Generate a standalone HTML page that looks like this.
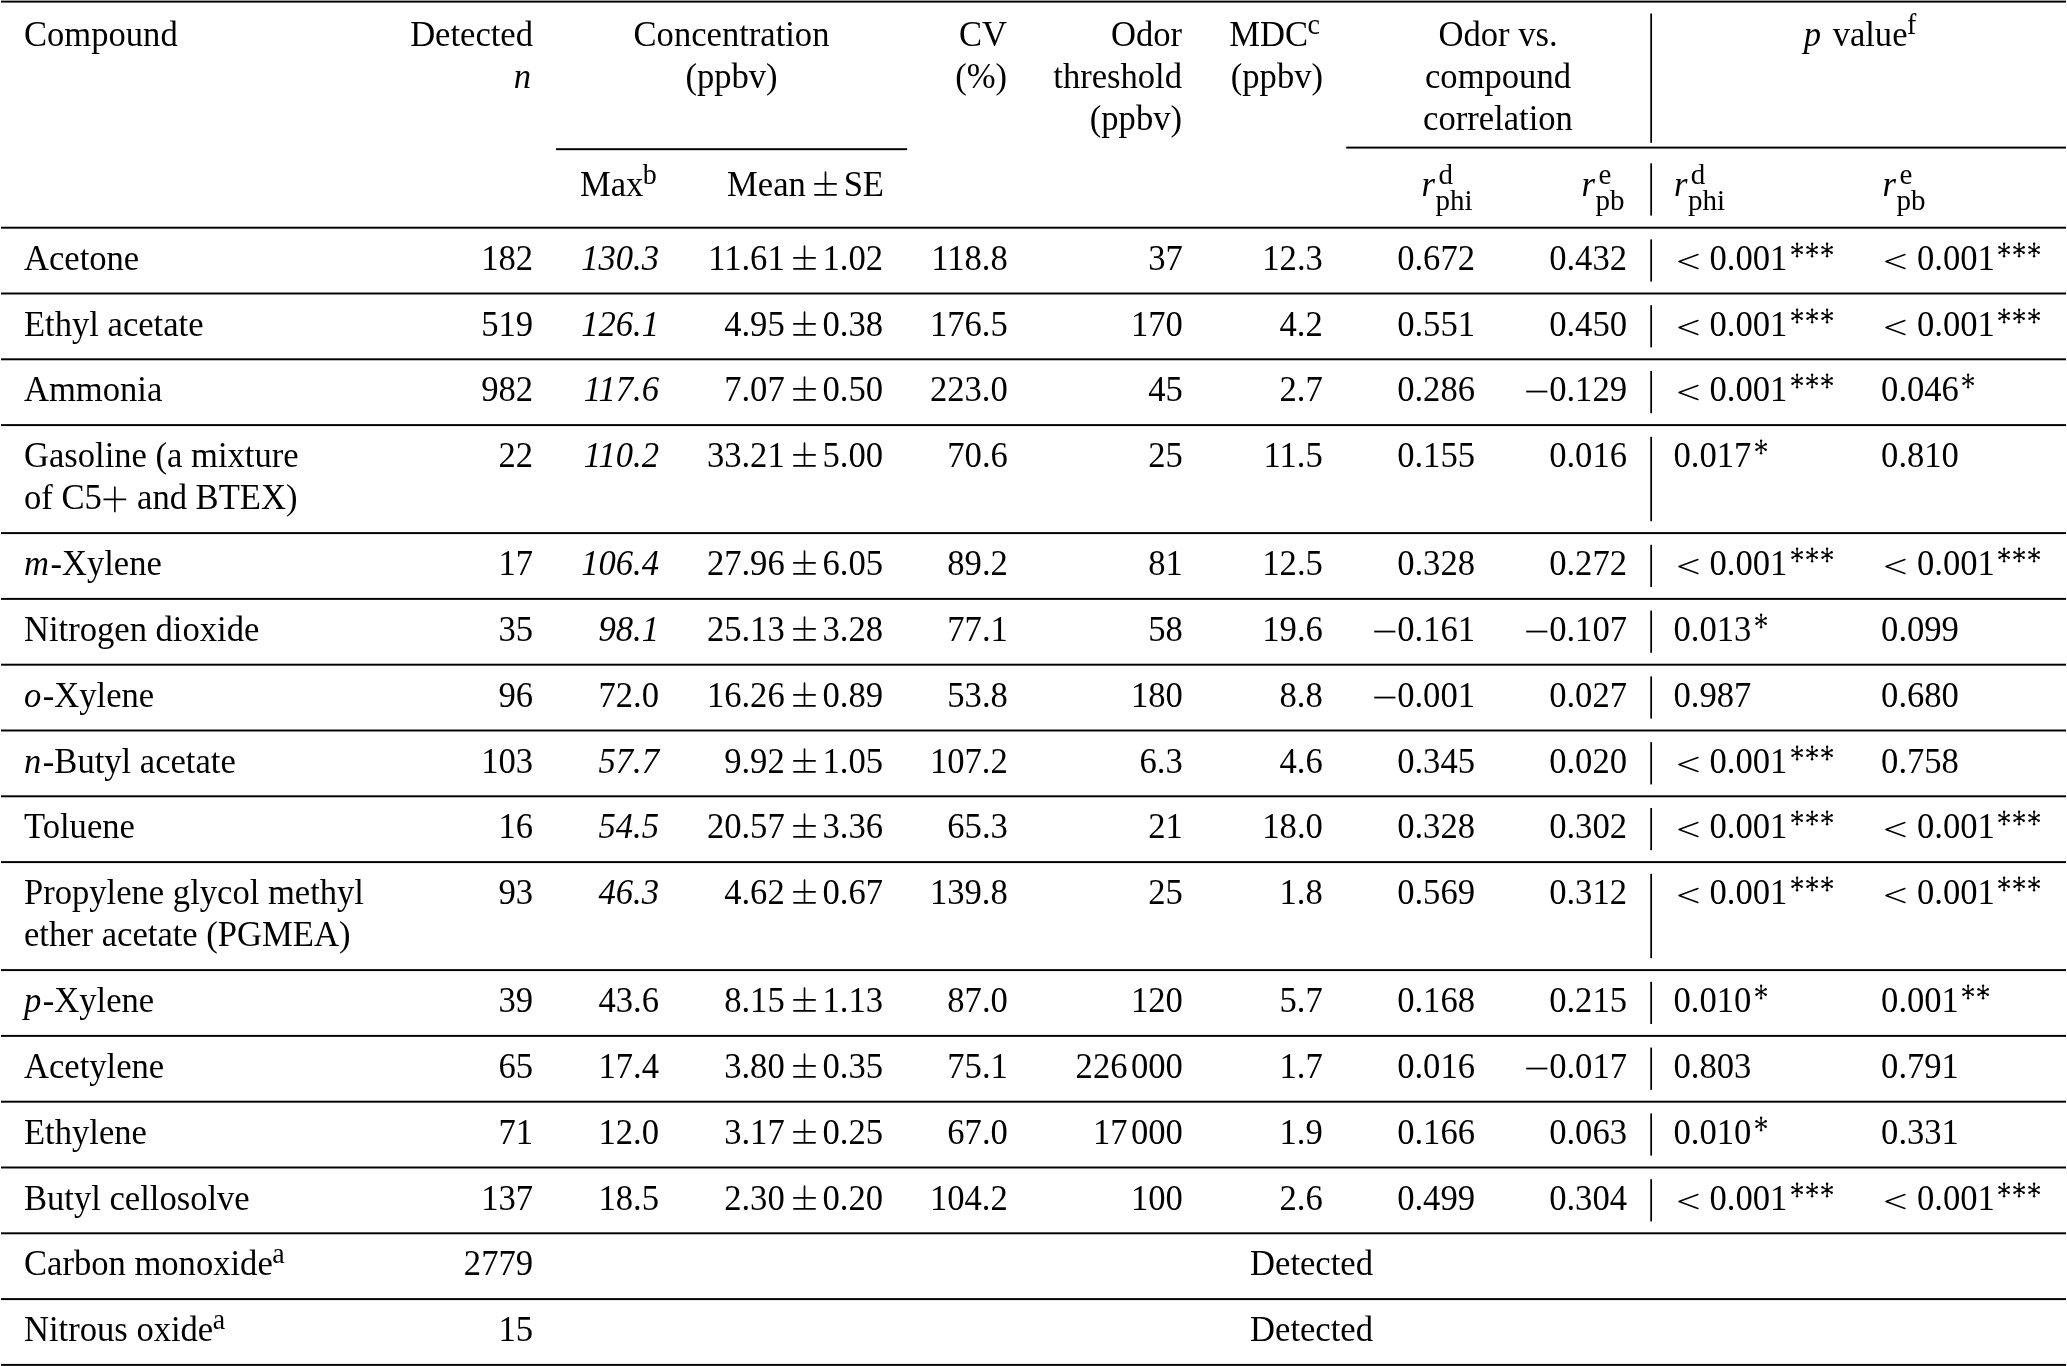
<!DOCTYPE html>
<html><head><meta charset="utf-8"><style>
html,body{margin:0;padding:0;background:#fff;}
body{will-change:transform;width:2067px;height:1366px;position:relative;overflow:hidden;font-family:"Liberation Serif",serif;color:#000;}
.t{position:absolute;white-space:nowrap;line-height:1;transform:scaleY(1.05);transform-origin:0 83.75%;}
.l{position:absolute;background:#111;}
sup{font-size:0.809em;vertical-align:0;position:relative;top:-0.40em;line-height:0;margin-left:-0.02em;}
svg{display:inline-block;vertical-align:baseline;overflow:visible;}
svg.lines{position:absolute;left:0;top:0;}
svg.ast{margin-left:3.3px;}
svg.lt{margin-left:4.2px;margin-right:10.8px;vertical-align:1px;}
svg.pm{margin-left:8px;margin-right:6.8px;vertical-align:-0.5px;}
svg.pl{margin-left:1.4px;margin-right:1.5px;vertical-align:-3.75px;}
svg.mn{margin-right:1.3px;}
.th{display:inline-block;width:0.1em;}
.mi{margin-right:1.5px;}
</style></head><body>
<svg class="lines" width="2067" height="1366" viewBox="0 0 2067 1366" fill="#000"><rect x="1.00" y="0.63" width="2065.00" height="1.95"/><rect x="556.00" y="148.22" width="351.10" height="1.95"/><rect x="1346.20" y="146.62" width="719.80" height="1.95"/><rect x="1650.28" y="13.50" width="1.75" height="129.30"/><rect x="1650.28" y="163.30" width="1.75" height="52.30"/><rect x="1.00" y="226.72" width="2065.00" height="1.95"/><rect x="1650.28" y="239.40" width="1.75" height="42.20"/><rect x="1.00" y="292.52" width="2065.00" height="1.95"/><rect x="1650.28" y="305.20" width="1.75" height="42.20"/><rect x="1.00" y="358.32" width="2065.00" height="1.95"/><rect x="1650.28" y="371.00" width="1.75" height="42.20"/><rect x="1.00" y="424.12" width="2065.00" height="1.95"/><rect x="1650.28" y="436.80" width="1.75" height="84.40"/><rect x="1.00" y="532.12" width="2065.00" height="1.95"/><rect x="1650.28" y="544.80" width="1.75" height="42.20"/><rect x="1.00" y="597.92" width="2065.00" height="1.95"/><rect x="1650.28" y="610.60" width="1.75" height="42.20"/><rect x="1.00" y="663.72" width="2065.00" height="1.95"/><rect x="1650.28" y="676.40" width="1.75" height="42.20"/><rect x="1.00" y="729.52" width="2065.00" height="1.95"/><rect x="1650.28" y="742.20" width="1.75" height="42.20"/><rect x="1.00" y="795.32" width="2065.00" height="1.95"/><rect x="1650.28" y="808.00" width="1.75" height="42.20"/><rect x="1.00" y="861.12" width="2065.00" height="1.95"/><rect x="1650.28" y="873.80" width="1.75" height="84.40"/><rect x="1.00" y="969.12" width="2065.00" height="1.95"/><rect x="1650.28" y="981.80" width="1.75" height="42.20"/><rect x="1.00" y="1034.92" width="2065.00" height="1.95"/><rect x="1650.28" y="1047.60" width="1.75" height="42.20"/><rect x="1.00" y="1100.72" width="2065.00" height="1.95"/><rect x="1650.28" y="1113.40" width="1.75" height="42.20"/><rect x="1.00" y="1166.52" width="2065.00" height="1.95"/><rect x="1650.28" y="1179.20" width="1.75" height="42.20"/><rect x="1.00" y="1232.32" width="2065.00" height="1.95"/><rect x="1.00" y="1298.12" width="2065.00" height="1.95"/><rect x="1.00" y="1363.92" width="2065.00" height="1.95"/></svg>
<div class="t" style="top:16.72px;font-size:34.6px;left:24.00px;">Compound</div>
<div class="t" style="top:16.72px;font-size:34.6px;right:1534.00px;text-align:right;">Detected</div>
<div class="t" style="top:58.92px;font-size:34.6px;right:1536.00px;text-align:right;"><i>n</i></div>
<div class="t" style="top:16.72px;font-size:34.6px;left:331.50px;width:800px;text-align:center;">Concentration</div>
<div class="t" style="top:58.92px;font-size:34.6px;left:331.50px;width:800px;text-align:center;">(ppbv)</div>
<div class="t" style="top:16.72px;font-size:34.6px;right:1060.00px;text-align:right;">CV</div>
<div class="t" style="top:58.92px;font-size:34.6px;right:1060.00px;text-align:right;">(%)</div>
<div class="t" style="top:16.72px;font-size:34.6px;right:885.00px;text-align:right;">Odor</div>
<div class="t" style="top:58.92px;font-size:34.6px;right:885.00px;text-align:right;">threshold</div>
<div class="t" style="top:101.12px;font-size:34.6px;right:885.00px;text-align:right;">(ppbv)</div>
<div class="t" style="top:16.72px;font-size:34.6px;right:747.00px;text-align:right;">MDC<sup>c</sup></div>
<div class="t" style="top:58.92px;font-size:34.6px;right:744.00px;text-align:right;">(ppbv)</div>
<div class="t" style="top:16.72px;font-size:34.6px;left:1098.00px;width:800px;text-align:center;">Odor vs.</div>
<div class="t" style="top:58.92px;font-size:34.6px;left:1098.00px;width:800px;text-align:center;">compound</div>
<div class="t" style="top:101.12px;font-size:34.6px;left:1098.00px;width:800px;text-align:center;">correlation</div>
<div class="t" style="top:16.72px;font-size:34.6px;left:1460.00px;width:800px;text-align:center;"><i style="margin-right:3px">p</i> value<sup>f</sup></div>
<div class="t" style="top:167.22px;font-size:34.6px;left:580.00px;">Max<sup>b</sup></div>
<div class="t" style="top:167.22px;font-size:34.6px;right:1183.00px;text-align:right;">Mean<svg class="pm" width="23" height="25" viewBox="0 0 23 25"><path d="M0.9 12.5H22.1M11.5 1.3V22.9M0.9 22.9H22.1" stroke="#000" stroke-width="1.7" fill="none" stroke-linecap="round"/></svg>SE</div>
<div class="t" style="top:167.22px;font-size:34.6px;left:1421.60px;"><i>r</i></div>
<div class="t" style="top:159.91px;font-size:29.0px;left:1438.40px;">d</div>
<div class="t" style="top:186.11px;font-size:29.0px;left:1435.60px;">phi</div>
<div class="t" style="top:167.22px;font-size:34.6px;left:1581.60px;"><i>r</i></div>
<div class="t" style="top:159.91px;font-size:29.0px;left:1598.40px;">e</div>
<div class="t" style="top:186.11px;font-size:29.0px;left:1595.60px;">pb</div>
<div class="t" style="top:167.22px;font-size:34.6px;left:1674.00px;"><i>r</i></div>
<div class="t" style="top:159.91px;font-size:29.0px;left:1690.80px;">d</div>
<div class="t" style="top:186.11px;font-size:29.0px;left:1688.00px;">phi</div>
<div class="t" style="top:167.22px;font-size:34.6px;left:1882.60px;"><i>r</i></div>
<div class="t" style="top:159.91px;font-size:29.0px;left:1899.40px;">e</div>
<div class="t" style="top:186.11px;font-size:29.0px;left:1896.60px;">pb</div>
<div class="t" style="top:240.72px;font-size:34.6px;left:24.00px;">Acetone</div>
<div class="t" style="top:240.72px;font-size:34.6px;right:1534.00px;text-align:right;">182</div>
<div class="t" style="top:240.72px;font-size:34.6px;right:1408.00px;text-align:right;"><i>130.3</i></div>
<div class="t" style="top:240.72px;font-size:34.6px;right:1184.00px;text-align:right;">11.61<svg class="pm" width="23" height="25" viewBox="0 0 23 25"><path d="M0.9 12.5H22.1M11.5 1.3V22.9M0.9 22.9H22.1" stroke="#000" stroke-width="1.7" fill="none" stroke-linecap="round"/></svg>1.02</div>
<div class="t" style="top:240.72px;font-size:34.6px;right:1059.20px;text-align:right;">118.8</div>
<div class="t" style="top:240.72px;font-size:34.6px;right:884.20px;text-align:right;">37</div>
<div class="t" style="top:240.72px;font-size:34.6px;right:744.20px;text-align:right;">12.3</div>
<div class="t" style="top:240.72px;font-size:34.6px;right:592.00px;text-align:right;">0.672</div>
<div class="t" style="top:240.72px;font-size:34.6px;right:440.00px;text-align:right;">0.432</div>
<div class="t" style="top:240.72px;font-size:34.6px;left:1673.50px;"><svg class="lt" width="21" height="17" viewBox="0 0 21 17"><path d="M19.9 3.3L1.0 9.9L19.9 16.5" stroke="#000" stroke-width="1.5" fill="none" stroke-linecap="round" stroke-linejoin="round"/></svg>0.001<svg class="ast" width="45.0" height="27" viewBox="0 0 45.0 27"><path d="M6.10 2.00V13.80M1.50 5.25L10.70 10.55M1.50 10.55L10.70 5.25M21.10 2.00V13.80M16.50 5.25L25.70 10.55M16.50 10.55L25.70 5.25M36.10 2.00V13.80M31.50 5.25L40.70 10.55M31.50 10.55L40.70 5.25" stroke="#000" stroke-width="1.35" fill="none"/><circle cx="6.10" cy="2.00" r="1.2"/><circle cx="6.10" cy="13.80" r="1.2"/><circle cx="1.50" cy="5.25" r="1.2"/><circle cx="10.70" cy="10.55" r="1.2"/><circle cx="1.50" cy="10.55" r="1.2"/><circle cx="10.70" cy="5.25" r="1.2"/><circle cx="21.10" cy="2.00" r="1.2"/><circle cx="21.10" cy="13.80" r="1.2"/><circle cx="16.50" cy="5.25" r="1.2"/><circle cx="25.70" cy="10.55" r="1.2"/><circle cx="16.50" cy="10.55" r="1.2"/><circle cx="25.70" cy="5.25" r="1.2"/><circle cx="36.10" cy="2.00" r="1.2"/><circle cx="36.10" cy="13.80" r="1.2"/><circle cx="31.50" cy="5.25" r="1.2"/><circle cx="40.70" cy="10.55" r="1.2"/><circle cx="31.50" cy="10.55" r="1.2"/><circle cx="40.70" cy="5.25" r="1.2"/></svg></div>
<div class="t" style="top:240.72px;font-size:34.6px;left:1881.10px;"><svg class="lt" width="21" height="17" viewBox="0 0 21 17"><path d="M19.9 3.3L1.0 9.9L19.9 16.5" stroke="#000" stroke-width="1.5" fill="none" stroke-linecap="round" stroke-linejoin="round"/></svg>0.001<svg class="ast" width="45.0" height="27" viewBox="0 0 45.0 27"><path d="M6.10 2.00V13.80M1.50 5.25L10.70 10.55M1.50 10.55L10.70 5.25M21.10 2.00V13.80M16.50 5.25L25.70 10.55M16.50 10.55L25.70 5.25M36.10 2.00V13.80M31.50 5.25L40.70 10.55M31.50 10.55L40.70 5.25" stroke="#000" stroke-width="1.35" fill="none"/><circle cx="6.10" cy="2.00" r="1.2"/><circle cx="6.10" cy="13.80" r="1.2"/><circle cx="1.50" cy="5.25" r="1.2"/><circle cx="10.70" cy="10.55" r="1.2"/><circle cx="1.50" cy="10.55" r="1.2"/><circle cx="10.70" cy="5.25" r="1.2"/><circle cx="21.10" cy="2.00" r="1.2"/><circle cx="21.10" cy="13.80" r="1.2"/><circle cx="16.50" cy="5.25" r="1.2"/><circle cx="25.70" cy="10.55" r="1.2"/><circle cx="16.50" cy="10.55" r="1.2"/><circle cx="25.70" cy="5.25" r="1.2"/><circle cx="36.10" cy="2.00" r="1.2"/><circle cx="36.10" cy="13.80" r="1.2"/><circle cx="31.50" cy="5.25" r="1.2"/><circle cx="40.70" cy="10.55" r="1.2"/><circle cx="31.50" cy="10.55" r="1.2"/><circle cx="40.70" cy="5.25" r="1.2"/></svg></div>
<div class="t" style="top:306.52px;font-size:34.6px;left:24.00px;">Ethyl acetate</div>
<div class="t" style="top:306.52px;font-size:34.6px;right:1534.00px;text-align:right;">519</div>
<div class="t" style="top:306.52px;font-size:34.6px;right:1408.00px;text-align:right;"><i>126.1</i></div>
<div class="t" style="top:306.52px;font-size:34.6px;right:1184.00px;text-align:right;">4.95<svg class="pm" width="23" height="25" viewBox="0 0 23 25"><path d="M0.9 12.5H22.1M11.5 1.3V22.9M0.9 22.9H22.1" stroke="#000" stroke-width="1.7" fill="none" stroke-linecap="round"/></svg>0.38</div>
<div class="t" style="top:306.52px;font-size:34.6px;right:1059.20px;text-align:right;">176.5</div>
<div class="t" style="top:306.52px;font-size:34.6px;right:884.20px;text-align:right;">170</div>
<div class="t" style="top:306.52px;font-size:34.6px;right:744.20px;text-align:right;">4.2</div>
<div class="t" style="top:306.52px;font-size:34.6px;right:592.00px;text-align:right;">0.551</div>
<div class="t" style="top:306.52px;font-size:34.6px;right:440.00px;text-align:right;">0.450</div>
<div class="t" style="top:306.52px;font-size:34.6px;left:1673.50px;"><svg class="lt" width="21" height="17" viewBox="0 0 21 17"><path d="M19.9 3.3L1.0 9.9L19.9 16.5" stroke="#000" stroke-width="1.5" fill="none" stroke-linecap="round" stroke-linejoin="round"/></svg>0.001<svg class="ast" width="45.0" height="27" viewBox="0 0 45.0 27"><path d="M6.10 2.00V13.80M1.50 5.25L10.70 10.55M1.50 10.55L10.70 5.25M21.10 2.00V13.80M16.50 5.25L25.70 10.55M16.50 10.55L25.70 5.25M36.10 2.00V13.80M31.50 5.25L40.70 10.55M31.50 10.55L40.70 5.25" stroke="#000" stroke-width="1.35" fill="none"/><circle cx="6.10" cy="2.00" r="1.2"/><circle cx="6.10" cy="13.80" r="1.2"/><circle cx="1.50" cy="5.25" r="1.2"/><circle cx="10.70" cy="10.55" r="1.2"/><circle cx="1.50" cy="10.55" r="1.2"/><circle cx="10.70" cy="5.25" r="1.2"/><circle cx="21.10" cy="2.00" r="1.2"/><circle cx="21.10" cy="13.80" r="1.2"/><circle cx="16.50" cy="5.25" r="1.2"/><circle cx="25.70" cy="10.55" r="1.2"/><circle cx="16.50" cy="10.55" r="1.2"/><circle cx="25.70" cy="5.25" r="1.2"/><circle cx="36.10" cy="2.00" r="1.2"/><circle cx="36.10" cy="13.80" r="1.2"/><circle cx="31.50" cy="5.25" r="1.2"/><circle cx="40.70" cy="10.55" r="1.2"/><circle cx="31.50" cy="10.55" r="1.2"/><circle cx="40.70" cy="5.25" r="1.2"/></svg></div>
<div class="t" style="top:306.52px;font-size:34.6px;left:1881.10px;"><svg class="lt" width="21" height="17" viewBox="0 0 21 17"><path d="M19.9 3.3L1.0 9.9L19.9 16.5" stroke="#000" stroke-width="1.5" fill="none" stroke-linecap="round" stroke-linejoin="round"/></svg>0.001<svg class="ast" width="45.0" height="27" viewBox="0 0 45.0 27"><path d="M6.10 2.00V13.80M1.50 5.25L10.70 10.55M1.50 10.55L10.70 5.25M21.10 2.00V13.80M16.50 5.25L25.70 10.55M16.50 10.55L25.70 5.25M36.10 2.00V13.80M31.50 5.25L40.70 10.55M31.50 10.55L40.70 5.25" stroke="#000" stroke-width="1.35" fill="none"/><circle cx="6.10" cy="2.00" r="1.2"/><circle cx="6.10" cy="13.80" r="1.2"/><circle cx="1.50" cy="5.25" r="1.2"/><circle cx="10.70" cy="10.55" r="1.2"/><circle cx="1.50" cy="10.55" r="1.2"/><circle cx="10.70" cy="5.25" r="1.2"/><circle cx="21.10" cy="2.00" r="1.2"/><circle cx="21.10" cy="13.80" r="1.2"/><circle cx="16.50" cy="5.25" r="1.2"/><circle cx="25.70" cy="10.55" r="1.2"/><circle cx="16.50" cy="10.55" r="1.2"/><circle cx="25.70" cy="5.25" r="1.2"/><circle cx="36.10" cy="2.00" r="1.2"/><circle cx="36.10" cy="13.80" r="1.2"/><circle cx="31.50" cy="5.25" r="1.2"/><circle cx="40.70" cy="10.55" r="1.2"/><circle cx="31.50" cy="10.55" r="1.2"/><circle cx="40.70" cy="5.25" r="1.2"/></svg></div>
<div class="t" style="top:372.32px;font-size:34.6px;left:24.00px;">Ammonia</div>
<div class="t" style="top:372.32px;font-size:34.6px;right:1534.00px;text-align:right;">982</div>
<div class="t" style="top:372.32px;font-size:34.6px;right:1408.00px;text-align:right;"><i>117.6</i></div>
<div class="t" style="top:372.32px;font-size:34.6px;right:1184.00px;text-align:right;">7.07<svg class="pm" width="23" height="25" viewBox="0 0 23 25"><path d="M0.9 12.5H22.1M11.5 1.3V22.9M0.9 22.9H22.1" stroke="#000" stroke-width="1.7" fill="none" stroke-linecap="round"/></svg>0.50</div>
<div class="t" style="top:372.32px;font-size:34.6px;right:1059.20px;text-align:right;">223.0</div>
<div class="t" style="top:372.32px;font-size:34.6px;right:884.20px;text-align:right;">45</div>
<div class="t" style="top:372.32px;font-size:34.6px;right:744.20px;text-align:right;">2.7</div>
<div class="t" style="top:372.32px;font-size:34.6px;right:592.00px;text-align:right;">0.286</div>
<div class="t" style="top:372.32px;font-size:34.6px;right:440.00px;text-align:right;"><svg class="mn" width="22" height="12" viewBox="0 0 22 12"><path d="M0.2 3.0H21.4" stroke="#000" stroke-width="1.7" fill="none"/></svg>0.129</div>
<div class="t" style="top:372.32px;font-size:34.6px;left:1673.50px;"><svg class="lt" width="21" height="17" viewBox="0 0 21 17"><path d="M19.9 3.3L1.0 9.9L19.9 16.5" stroke="#000" stroke-width="1.5" fill="none" stroke-linecap="round" stroke-linejoin="round"/></svg>0.001<svg class="ast" width="45.0" height="27" viewBox="0 0 45.0 27"><path d="M6.10 2.00V13.80M1.50 5.25L10.70 10.55M1.50 10.55L10.70 5.25M21.10 2.00V13.80M16.50 5.25L25.70 10.55M16.50 10.55L25.70 5.25M36.10 2.00V13.80M31.50 5.25L40.70 10.55M31.50 10.55L40.70 5.25" stroke="#000" stroke-width="1.35" fill="none"/><circle cx="6.10" cy="2.00" r="1.2"/><circle cx="6.10" cy="13.80" r="1.2"/><circle cx="1.50" cy="5.25" r="1.2"/><circle cx="10.70" cy="10.55" r="1.2"/><circle cx="1.50" cy="10.55" r="1.2"/><circle cx="10.70" cy="5.25" r="1.2"/><circle cx="21.10" cy="2.00" r="1.2"/><circle cx="21.10" cy="13.80" r="1.2"/><circle cx="16.50" cy="5.25" r="1.2"/><circle cx="25.70" cy="10.55" r="1.2"/><circle cx="16.50" cy="10.55" r="1.2"/><circle cx="25.70" cy="5.25" r="1.2"/><circle cx="36.10" cy="2.00" r="1.2"/><circle cx="36.10" cy="13.80" r="1.2"/><circle cx="31.50" cy="5.25" r="1.2"/><circle cx="40.70" cy="10.55" r="1.2"/><circle cx="31.50" cy="10.55" r="1.2"/><circle cx="40.70" cy="5.25" r="1.2"/></svg></div>
<div class="t" style="top:372.32px;font-size:34.6px;left:1881.10px;">0.046<svg class="ast" width="15.0" height="27" viewBox="0 0 15.0 27"><path d="M6.10 2.00V13.80M1.50 5.25L10.70 10.55M1.50 10.55L10.70 5.25" stroke="#000" stroke-width="1.35" fill="none"/><circle cx="6.10" cy="2.00" r="1.2"/><circle cx="6.10" cy="13.80" r="1.2"/><circle cx="1.50" cy="5.25" r="1.2"/><circle cx="10.70" cy="10.55" r="1.2"/><circle cx="1.50" cy="10.55" r="1.2"/><circle cx="10.70" cy="5.25" r="1.2"/></svg></div>
<div class="t" style="top:438.12px;font-size:34.6px;left:24.00px;">Gasoline (a mixture</div>
<div class="t" style="top:480.32px;font-size:34.6px;left:24.00px;">of C5<svg class="pl" width="23.7" height="25.7" viewBox="0 0 23.7 25.7"><path d="M0.5 12.85H23.2M11.85 0.6V25.1" stroke="#000" stroke-width="1.6" fill="none"/></svg> and BTEX)</div>
<div class="t" style="top:438.12px;font-size:34.6px;right:1534.00px;text-align:right;">22</div>
<div class="t" style="top:438.12px;font-size:34.6px;right:1408.00px;text-align:right;"><i>110.2</i></div>
<div class="t" style="top:438.12px;font-size:34.6px;right:1184.00px;text-align:right;">33.21<svg class="pm" width="23" height="25" viewBox="0 0 23 25"><path d="M0.9 12.5H22.1M11.5 1.3V22.9M0.9 22.9H22.1" stroke="#000" stroke-width="1.7" fill="none" stroke-linecap="round"/></svg>5.00</div>
<div class="t" style="top:438.12px;font-size:34.6px;right:1059.20px;text-align:right;">70.6</div>
<div class="t" style="top:438.12px;font-size:34.6px;right:884.20px;text-align:right;">25</div>
<div class="t" style="top:438.12px;font-size:34.6px;right:744.20px;text-align:right;">11.5</div>
<div class="t" style="top:438.12px;font-size:34.6px;right:592.00px;text-align:right;">0.155</div>
<div class="t" style="top:438.12px;font-size:34.6px;right:440.00px;text-align:right;">0.016</div>
<div class="t" style="top:438.12px;font-size:34.6px;left:1673.50px;">0.017<svg class="ast" width="15.0" height="27" viewBox="0 0 15.0 27"><path d="M6.10 2.00V13.80M1.50 5.25L10.70 10.55M1.50 10.55L10.70 5.25" stroke="#000" stroke-width="1.35" fill="none"/><circle cx="6.10" cy="2.00" r="1.2"/><circle cx="6.10" cy="13.80" r="1.2"/><circle cx="1.50" cy="5.25" r="1.2"/><circle cx="10.70" cy="10.55" r="1.2"/><circle cx="1.50" cy="10.55" r="1.2"/><circle cx="10.70" cy="5.25" r="1.2"/></svg></div>
<div class="t" style="top:438.12px;font-size:34.6px;left:1881.10px;">0.810</div>
<div class="t" style="top:546.12px;font-size:34.6px;left:24.00px;"><i class="mi">m</i>-Xylene</div>
<div class="t" style="top:546.12px;font-size:34.6px;right:1534.00px;text-align:right;">17</div>
<div class="t" style="top:546.12px;font-size:34.6px;right:1408.00px;text-align:right;"><i>106.4</i></div>
<div class="t" style="top:546.12px;font-size:34.6px;right:1184.00px;text-align:right;">27.96<svg class="pm" width="23" height="25" viewBox="0 0 23 25"><path d="M0.9 12.5H22.1M11.5 1.3V22.9M0.9 22.9H22.1" stroke="#000" stroke-width="1.7" fill="none" stroke-linecap="round"/></svg>6.05</div>
<div class="t" style="top:546.12px;font-size:34.6px;right:1059.20px;text-align:right;">89.2</div>
<div class="t" style="top:546.12px;font-size:34.6px;right:884.20px;text-align:right;">81</div>
<div class="t" style="top:546.12px;font-size:34.6px;right:744.20px;text-align:right;">12.5</div>
<div class="t" style="top:546.12px;font-size:34.6px;right:592.00px;text-align:right;">0.328</div>
<div class="t" style="top:546.12px;font-size:34.6px;right:440.00px;text-align:right;">0.272</div>
<div class="t" style="top:546.12px;font-size:34.6px;left:1673.50px;"><svg class="lt" width="21" height="17" viewBox="0 0 21 17"><path d="M19.9 3.3L1.0 9.9L19.9 16.5" stroke="#000" stroke-width="1.5" fill="none" stroke-linecap="round" stroke-linejoin="round"/></svg>0.001<svg class="ast" width="45.0" height="27" viewBox="0 0 45.0 27"><path d="M6.10 2.00V13.80M1.50 5.25L10.70 10.55M1.50 10.55L10.70 5.25M21.10 2.00V13.80M16.50 5.25L25.70 10.55M16.50 10.55L25.70 5.25M36.10 2.00V13.80M31.50 5.25L40.70 10.55M31.50 10.55L40.70 5.25" stroke="#000" stroke-width="1.35" fill="none"/><circle cx="6.10" cy="2.00" r="1.2"/><circle cx="6.10" cy="13.80" r="1.2"/><circle cx="1.50" cy="5.25" r="1.2"/><circle cx="10.70" cy="10.55" r="1.2"/><circle cx="1.50" cy="10.55" r="1.2"/><circle cx="10.70" cy="5.25" r="1.2"/><circle cx="21.10" cy="2.00" r="1.2"/><circle cx="21.10" cy="13.80" r="1.2"/><circle cx="16.50" cy="5.25" r="1.2"/><circle cx="25.70" cy="10.55" r="1.2"/><circle cx="16.50" cy="10.55" r="1.2"/><circle cx="25.70" cy="5.25" r="1.2"/><circle cx="36.10" cy="2.00" r="1.2"/><circle cx="36.10" cy="13.80" r="1.2"/><circle cx="31.50" cy="5.25" r="1.2"/><circle cx="40.70" cy="10.55" r="1.2"/><circle cx="31.50" cy="10.55" r="1.2"/><circle cx="40.70" cy="5.25" r="1.2"/></svg></div>
<div class="t" style="top:546.12px;font-size:34.6px;left:1881.10px;"><svg class="lt" width="21" height="17" viewBox="0 0 21 17"><path d="M19.9 3.3L1.0 9.9L19.9 16.5" stroke="#000" stroke-width="1.5" fill="none" stroke-linecap="round" stroke-linejoin="round"/></svg>0.001<svg class="ast" width="45.0" height="27" viewBox="0 0 45.0 27"><path d="M6.10 2.00V13.80M1.50 5.25L10.70 10.55M1.50 10.55L10.70 5.25M21.10 2.00V13.80M16.50 5.25L25.70 10.55M16.50 10.55L25.70 5.25M36.10 2.00V13.80M31.50 5.25L40.70 10.55M31.50 10.55L40.70 5.25" stroke="#000" stroke-width="1.35" fill="none"/><circle cx="6.10" cy="2.00" r="1.2"/><circle cx="6.10" cy="13.80" r="1.2"/><circle cx="1.50" cy="5.25" r="1.2"/><circle cx="10.70" cy="10.55" r="1.2"/><circle cx="1.50" cy="10.55" r="1.2"/><circle cx="10.70" cy="5.25" r="1.2"/><circle cx="21.10" cy="2.00" r="1.2"/><circle cx="21.10" cy="13.80" r="1.2"/><circle cx="16.50" cy="5.25" r="1.2"/><circle cx="25.70" cy="10.55" r="1.2"/><circle cx="16.50" cy="10.55" r="1.2"/><circle cx="25.70" cy="5.25" r="1.2"/><circle cx="36.10" cy="2.00" r="1.2"/><circle cx="36.10" cy="13.80" r="1.2"/><circle cx="31.50" cy="5.25" r="1.2"/><circle cx="40.70" cy="10.55" r="1.2"/><circle cx="31.50" cy="10.55" r="1.2"/><circle cx="40.70" cy="5.25" r="1.2"/></svg></div>
<div class="t" style="top:611.92px;font-size:34.6px;left:24.00px;">Nitrogen dioxide</div>
<div class="t" style="top:611.92px;font-size:34.6px;right:1534.00px;text-align:right;">35</div>
<div class="t" style="top:611.92px;font-size:34.6px;right:1408.00px;text-align:right;"><i>98.1</i></div>
<div class="t" style="top:611.92px;font-size:34.6px;right:1184.00px;text-align:right;">25.13<svg class="pm" width="23" height="25" viewBox="0 0 23 25"><path d="M0.9 12.5H22.1M11.5 1.3V22.9M0.9 22.9H22.1" stroke="#000" stroke-width="1.7" fill="none" stroke-linecap="round"/></svg>3.28</div>
<div class="t" style="top:611.92px;font-size:34.6px;right:1059.20px;text-align:right;">77.1</div>
<div class="t" style="top:611.92px;font-size:34.6px;right:884.20px;text-align:right;">58</div>
<div class="t" style="top:611.92px;font-size:34.6px;right:744.20px;text-align:right;">19.6</div>
<div class="t" style="top:611.92px;font-size:34.6px;right:592.00px;text-align:right;"><svg class="mn" width="22" height="12" viewBox="0 0 22 12"><path d="M0.2 3.0H21.4" stroke="#000" stroke-width="1.7" fill="none"/></svg>0.161</div>
<div class="t" style="top:611.92px;font-size:34.6px;right:440.00px;text-align:right;"><svg class="mn" width="22" height="12" viewBox="0 0 22 12"><path d="M0.2 3.0H21.4" stroke="#000" stroke-width="1.7" fill="none"/></svg>0.107</div>
<div class="t" style="top:611.92px;font-size:34.6px;left:1673.50px;">0.013<svg class="ast" width="15.0" height="27" viewBox="0 0 15.0 27"><path d="M6.10 2.00V13.80M1.50 5.25L10.70 10.55M1.50 10.55L10.70 5.25" stroke="#000" stroke-width="1.35" fill="none"/><circle cx="6.10" cy="2.00" r="1.2"/><circle cx="6.10" cy="13.80" r="1.2"/><circle cx="1.50" cy="5.25" r="1.2"/><circle cx="10.70" cy="10.55" r="1.2"/><circle cx="1.50" cy="10.55" r="1.2"/><circle cx="10.70" cy="5.25" r="1.2"/></svg></div>
<div class="t" style="top:611.92px;font-size:34.6px;left:1881.10px;">0.099</div>
<div class="t" style="top:677.72px;font-size:34.6px;left:24.00px;"><i class="mi">o</i>-Xylene</div>
<div class="t" style="top:677.72px;font-size:34.6px;right:1534.00px;text-align:right;">96</div>
<div class="t" style="top:677.72px;font-size:34.6px;right:1408.00px;text-align:right;">72.0</div>
<div class="t" style="top:677.72px;font-size:34.6px;right:1184.00px;text-align:right;">16.26<svg class="pm" width="23" height="25" viewBox="0 0 23 25"><path d="M0.9 12.5H22.1M11.5 1.3V22.9M0.9 22.9H22.1" stroke="#000" stroke-width="1.7" fill="none" stroke-linecap="round"/></svg>0.89</div>
<div class="t" style="top:677.72px;font-size:34.6px;right:1059.20px;text-align:right;">53.8</div>
<div class="t" style="top:677.72px;font-size:34.6px;right:884.20px;text-align:right;">180</div>
<div class="t" style="top:677.72px;font-size:34.6px;right:744.20px;text-align:right;">8.8</div>
<div class="t" style="top:677.72px;font-size:34.6px;right:592.00px;text-align:right;"><svg class="mn" width="22" height="12" viewBox="0 0 22 12"><path d="M0.2 3.0H21.4" stroke="#000" stroke-width="1.7" fill="none"/></svg>0.001</div>
<div class="t" style="top:677.72px;font-size:34.6px;right:440.00px;text-align:right;">0.027</div>
<div class="t" style="top:677.72px;font-size:34.6px;left:1673.50px;">0.987</div>
<div class="t" style="top:677.72px;font-size:34.6px;left:1881.10px;">0.680</div>
<div class="t" style="top:743.52px;font-size:34.6px;left:24.00px;"><i class="mi">n</i>-Butyl acetate</div>
<div class="t" style="top:743.52px;font-size:34.6px;right:1534.00px;text-align:right;">103</div>
<div class="t" style="top:743.52px;font-size:34.6px;right:1408.00px;text-align:right;"><i>57.7</i></div>
<div class="t" style="top:743.52px;font-size:34.6px;right:1184.00px;text-align:right;">9.92<svg class="pm" width="23" height="25" viewBox="0 0 23 25"><path d="M0.9 12.5H22.1M11.5 1.3V22.9M0.9 22.9H22.1" stroke="#000" stroke-width="1.7" fill="none" stroke-linecap="round"/></svg>1.05</div>
<div class="t" style="top:743.52px;font-size:34.6px;right:1059.20px;text-align:right;">107.2</div>
<div class="t" style="top:743.52px;font-size:34.6px;right:884.20px;text-align:right;">6.3</div>
<div class="t" style="top:743.52px;font-size:34.6px;right:744.20px;text-align:right;">4.6</div>
<div class="t" style="top:743.52px;font-size:34.6px;right:592.00px;text-align:right;">0.345</div>
<div class="t" style="top:743.52px;font-size:34.6px;right:440.00px;text-align:right;">0.020</div>
<div class="t" style="top:743.52px;font-size:34.6px;left:1673.50px;"><svg class="lt" width="21" height="17" viewBox="0 0 21 17"><path d="M19.9 3.3L1.0 9.9L19.9 16.5" stroke="#000" stroke-width="1.5" fill="none" stroke-linecap="round" stroke-linejoin="round"/></svg>0.001<svg class="ast" width="45.0" height="27" viewBox="0 0 45.0 27"><path d="M6.10 2.00V13.80M1.50 5.25L10.70 10.55M1.50 10.55L10.70 5.25M21.10 2.00V13.80M16.50 5.25L25.70 10.55M16.50 10.55L25.70 5.25M36.10 2.00V13.80M31.50 5.25L40.70 10.55M31.50 10.55L40.70 5.25" stroke="#000" stroke-width="1.35" fill="none"/><circle cx="6.10" cy="2.00" r="1.2"/><circle cx="6.10" cy="13.80" r="1.2"/><circle cx="1.50" cy="5.25" r="1.2"/><circle cx="10.70" cy="10.55" r="1.2"/><circle cx="1.50" cy="10.55" r="1.2"/><circle cx="10.70" cy="5.25" r="1.2"/><circle cx="21.10" cy="2.00" r="1.2"/><circle cx="21.10" cy="13.80" r="1.2"/><circle cx="16.50" cy="5.25" r="1.2"/><circle cx="25.70" cy="10.55" r="1.2"/><circle cx="16.50" cy="10.55" r="1.2"/><circle cx="25.70" cy="5.25" r="1.2"/><circle cx="36.10" cy="2.00" r="1.2"/><circle cx="36.10" cy="13.80" r="1.2"/><circle cx="31.50" cy="5.25" r="1.2"/><circle cx="40.70" cy="10.55" r="1.2"/><circle cx="31.50" cy="10.55" r="1.2"/><circle cx="40.70" cy="5.25" r="1.2"/></svg></div>
<div class="t" style="top:743.52px;font-size:34.6px;left:1881.10px;">0.758</div>
<div class="t" style="top:809.32px;font-size:34.6px;left:24.00px;">Toluene</div>
<div class="t" style="top:809.32px;font-size:34.6px;right:1534.00px;text-align:right;">16</div>
<div class="t" style="top:809.32px;font-size:34.6px;right:1408.00px;text-align:right;"><i>54.5</i></div>
<div class="t" style="top:809.32px;font-size:34.6px;right:1184.00px;text-align:right;">20.57<svg class="pm" width="23" height="25" viewBox="0 0 23 25"><path d="M0.9 12.5H22.1M11.5 1.3V22.9M0.9 22.9H22.1" stroke="#000" stroke-width="1.7" fill="none" stroke-linecap="round"/></svg>3.36</div>
<div class="t" style="top:809.32px;font-size:34.6px;right:1059.20px;text-align:right;">65.3</div>
<div class="t" style="top:809.32px;font-size:34.6px;right:884.20px;text-align:right;">21</div>
<div class="t" style="top:809.32px;font-size:34.6px;right:744.20px;text-align:right;">18.0</div>
<div class="t" style="top:809.32px;font-size:34.6px;right:592.00px;text-align:right;">0.328</div>
<div class="t" style="top:809.32px;font-size:34.6px;right:440.00px;text-align:right;">0.302</div>
<div class="t" style="top:809.32px;font-size:34.6px;left:1673.50px;"><svg class="lt" width="21" height="17" viewBox="0 0 21 17"><path d="M19.9 3.3L1.0 9.9L19.9 16.5" stroke="#000" stroke-width="1.5" fill="none" stroke-linecap="round" stroke-linejoin="round"/></svg>0.001<svg class="ast" width="45.0" height="27" viewBox="0 0 45.0 27"><path d="M6.10 2.00V13.80M1.50 5.25L10.70 10.55M1.50 10.55L10.70 5.25M21.10 2.00V13.80M16.50 5.25L25.70 10.55M16.50 10.55L25.70 5.25M36.10 2.00V13.80M31.50 5.25L40.70 10.55M31.50 10.55L40.70 5.25" stroke="#000" stroke-width="1.35" fill="none"/><circle cx="6.10" cy="2.00" r="1.2"/><circle cx="6.10" cy="13.80" r="1.2"/><circle cx="1.50" cy="5.25" r="1.2"/><circle cx="10.70" cy="10.55" r="1.2"/><circle cx="1.50" cy="10.55" r="1.2"/><circle cx="10.70" cy="5.25" r="1.2"/><circle cx="21.10" cy="2.00" r="1.2"/><circle cx="21.10" cy="13.80" r="1.2"/><circle cx="16.50" cy="5.25" r="1.2"/><circle cx="25.70" cy="10.55" r="1.2"/><circle cx="16.50" cy="10.55" r="1.2"/><circle cx="25.70" cy="5.25" r="1.2"/><circle cx="36.10" cy="2.00" r="1.2"/><circle cx="36.10" cy="13.80" r="1.2"/><circle cx="31.50" cy="5.25" r="1.2"/><circle cx="40.70" cy="10.55" r="1.2"/><circle cx="31.50" cy="10.55" r="1.2"/><circle cx="40.70" cy="5.25" r="1.2"/></svg></div>
<div class="t" style="top:809.32px;font-size:34.6px;left:1881.10px;"><svg class="lt" width="21" height="17" viewBox="0 0 21 17"><path d="M19.9 3.3L1.0 9.9L19.9 16.5" stroke="#000" stroke-width="1.5" fill="none" stroke-linecap="round" stroke-linejoin="round"/></svg>0.001<svg class="ast" width="45.0" height="27" viewBox="0 0 45.0 27"><path d="M6.10 2.00V13.80M1.50 5.25L10.70 10.55M1.50 10.55L10.70 5.25M21.10 2.00V13.80M16.50 5.25L25.70 10.55M16.50 10.55L25.70 5.25M36.10 2.00V13.80M31.50 5.25L40.70 10.55M31.50 10.55L40.70 5.25" stroke="#000" stroke-width="1.35" fill="none"/><circle cx="6.10" cy="2.00" r="1.2"/><circle cx="6.10" cy="13.80" r="1.2"/><circle cx="1.50" cy="5.25" r="1.2"/><circle cx="10.70" cy="10.55" r="1.2"/><circle cx="1.50" cy="10.55" r="1.2"/><circle cx="10.70" cy="5.25" r="1.2"/><circle cx="21.10" cy="2.00" r="1.2"/><circle cx="21.10" cy="13.80" r="1.2"/><circle cx="16.50" cy="5.25" r="1.2"/><circle cx="25.70" cy="10.55" r="1.2"/><circle cx="16.50" cy="10.55" r="1.2"/><circle cx="25.70" cy="5.25" r="1.2"/><circle cx="36.10" cy="2.00" r="1.2"/><circle cx="36.10" cy="13.80" r="1.2"/><circle cx="31.50" cy="5.25" r="1.2"/><circle cx="40.70" cy="10.55" r="1.2"/><circle cx="31.50" cy="10.55" r="1.2"/><circle cx="40.70" cy="5.25" r="1.2"/></svg></div>
<div class="t" style="top:875.12px;font-size:34.6px;left:24.00px;">Propylene glycol methyl</div>
<div class="t" style="top:917.32px;font-size:34.6px;left:24.00px;">ether acetate (PGMEA)</div>
<div class="t" style="top:875.12px;font-size:34.6px;right:1534.00px;text-align:right;">93</div>
<div class="t" style="top:875.12px;font-size:34.6px;right:1408.00px;text-align:right;"><i>46.3</i></div>
<div class="t" style="top:875.12px;font-size:34.6px;right:1184.00px;text-align:right;">4.62<svg class="pm" width="23" height="25" viewBox="0 0 23 25"><path d="M0.9 12.5H22.1M11.5 1.3V22.9M0.9 22.9H22.1" stroke="#000" stroke-width="1.7" fill="none" stroke-linecap="round"/></svg>0.67</div>
<div class="t" style="top:875.12px;font-size:34.6px;right:1059.20px;text-align:right;">139.8</div>
<div class="t" style="top:875.12px;font-size:34.6px;right:884.20px;text-align:right;">25</div>
<div class="t" style="top:875.12px;font-size:34.6px;right:744.20px;text-align:right;">1.8</div>
<div class="t" style="top:875.12px;font-size:34.6px;right:592.00px;text-align:right;">0.569</div>
<div class="t" style="top:875.12px;font-size:34.6px;right:440.00px;text-align:right;">0.312</div>
<div class="t" style="top:875.12px;font-size:34.6px;left:1673.50px;"><svg class="lt" width="21" height="17" viewBox="0 0 21 17"><path d="M19.9 3.3L1.0 9.9L19.9 16.5" stroke="#000" stroke-width="1.5" fill="none" stroke-linecap="round" stroke-linejoin="round"/></svg>0.001<svg class="ast" width="45.0" height="27" viewBox="0 0 45.0 27"><path d="M6.10 2.00V13.80M1.50 5.25L10.70 10.55M1.50 10.55L10.70 5.25M21.10 2.00V13.80M16.50 5.25L25.70 10.55M16.50 10.55L25.70 5.25M36.10 2.00V13.80M31.50 5.25L40.70 10.55M31.50 10.55L40.70 5.25" stroke="#000" stroke-width="1.35" fill="none"/><circle cx="6.10" cy="2.00" r="1.2"/><circle cx="6.10" cy="13.80" r="1.2"/><circle cx="1.50" cy="5.25" r="1.2"/><circle cx="10.70" cy="10.55" r="1.2"/><circle cx="1.50" cy="10.55" r="1.2"/><circle cx="10.70" cy="5.25" r="1.2"/><circle cx="21.10" cy="2.00" r="1.2"/><circle cx="21.10" cy="13.80" r="1.2"/><circle cx="16.50" cy="5.25" r="1.2"/><circle cx="25.70" cy="10.55" r="1.2"/><circle cx="16.50" cy="10.55" r="1.2"/><circle cx="25.70" cy="5.25" r="1.2"/><circle cx="36.10" cy="2.00" r="1.2"/><circle cx="36.10" cy="13.80" r="1.2"/><circle cx="31.50" cy="5.25" r="1.2"/><circle cx="40.70" cy="10.55" r="1.2"/><circle cx="31.50" cy="10.55" r="1.2"/><circle cx="40.70" cy="5.25" r="1.2"/></svg></div>
<div class="t" style="top:875.12px;font-size:34.6px;left:1881.10px;"><svg class="lt" width="21" height="17" viewBox="0 0 21 17"><path d="M19.9 3.3L1.0 9.9L19.9 16.5" stroke="#000" stroke-width="1.5" fill="none" stroke-linecap="round" stroke-linejoin="round"/></svg>0.001<svg class="ast" width="45.0" height="27" viewBox="0 0 45.0 27"><path d="M6.10 2.00V13.80M1.50 5.25L10.70 10.55M1.50 10.55L10.70 5.25M21.10 2.00V13.80M16.50 5.25L25.70 10.55M16.50 10.55L25.70 5.25M36.10 2.00V13.80M31.50 5.25L40.70 10.55M31.50 10.55L40.70 5.25" stroke="#000" stroke-width="1.35" fill="none"/><circle cx="6.10" cy="2.00" r="1.2"/><circle cx="6.10" cy="13.80" r="1.2"/><circle cx="1.50" cy="5.25" r="1.2"/><circle cx="10.70" cy="10.55" r="1.2"/><circle cx="1.50" cy="10.55" r="1.2"/><circle cx="10.70" cy="5.25" r="1.2"/><circle cx="21.10" cy="2.00" r="1.2"/><circle cx="21.10" cy="13.80" r="1.2"/><circle cx="16.50" cy="5.25" r="1.2"/><circle cx="25.70" cy="10.55" r="1.2"/><circle cx="16.50" cy="10.55" r="1.2"/><circle cx="25.70" cy="5.25" r="1.2"/><circle cx="36.10" cy="2.00" r="1.2"/><circle cx="36.10" cy="13.80" r="1.2"/><circle cx="31.50" cy="5.25" r="1.2"/><circle cx="40.70" cy="10.55" r="1.2"/><circle cx="31.50" cy="10.55" r="1.2"/><circle cx="40.70" cy="5.25" r="1.2"/></svg></div>
<div class="t" style="top:983.12px;font-size:34.6px;left:24.00px;"><i class="mi">p</i>-Xylene</div>
<div class="t" style="top:983.12px;font-size:34.6px;right:1534.00px;text-align:right;">39</div>
<div class="t" style="top:983.12px;font-size:34.6px;right:1408.00px;text-align:right;">43.6</div>
<div class="t" style="top:983.12px;font-size:34.6px;right:1184.00px;text-align:right;">8.15<svg class="pm" width="23" height="25" viewBox="0 0 23 25"><path d="M0.9 12.5H22.1M11.5 1.3V22.9M0.9 22.9H22.1" stroke="#000" stroke-width="1.7" fill="none" stroke-linecap="round"/></svg>1.13</div>
<div class="t" style="top:983.12px;font-size:34.6px;right:1059.20px;text-align:right;">87.0</div>
<div class="t" style="top:983.12px;font-size:34.6px;right:884.20px;text-align:right;">120</div>
<div class="t" style="top:983.12px;font-size:34.6px;right:744.20px;text-align:right;">5.7</div>
<div class="t" style="top:983.12px;font-size:34.6px;right:592.00px;text-align:right;">0.168</div>
<div class="t" style="top:983.12px;font-size:34.6px;right:440.00px;text-align:right;">0.215</div>
<div class="t" style="top:983.12px;font-size:34.6px;left:1673.50px;">0.010<svg class="ast" width="15.0" height="27" viewBox="0 0 15.0 27"><path d="M6.10 2.00V13.80M1.50 5.25L10.70 10.55M1.50 10.55L10.70 5.25" stroke="#000" stroke-width="1.35" fill="none"/><circle cx="6.10" cy="2.00" r="1.2"/><circle cx="6.10" cy="13.80" r="1.2"/><circle cx="1.50" cy="5.25" r="1.2"/><circle cx="10.70" cy="10.55" r="1.2"/><circle cx="1.50" cy="10.55" r="1.2"/><circle cx="10.70" cy="5.25" r="1.2"/></svg></div>
<div class="t" style="top:983.12px;font-size:34.6px;left:1881.10px;">0.001<svg class="ast" width="30.0" height="27" viewBox="0 0 30.0 27"><path d="M6.10 2.00V13.80M1.50 5.25L10.70 10.55M1.50 10.55L10.70 5.25M21.10 2.00V13.80M16.50 5.25L25.70 10.55M16.50 10.55L25.70 5.25" stroke="#000" stroke-width="1.35" fill="none"/><circle cx="6.10" cy="2.00" r="1.2"/><circle cx="6.10" cy="13.80" r="1.2"/><circle cx="1.50" cy="5.25" r="1.2"/><circle cx="10.70" cy="10.55" r="1.2"/><circle cx="1.50" cy="10.55" r="1.2"/><circle cx="10.70" cy="5.25" r="1.2"/><circle cx="21.10" cy="2.00" r="1.2"/><circle cx="21.10" cy="13.80" r="1.2"/><circle cx="16.50" cy="5.25" r="1.2"/><circle cx="25.70" cy="10.55" r="1.2"/><circle cx="16.50" cy="10.55" r="1.2"/><circle cx="25.70" cy="5.25" r="1.2"/></svg></div>
<div class="t" style="top:1048.92px;font-size:34.6px;left:24.00px;">Acetylene</div>
<div class="t" style="top:1048.92px;font-size:34.6px;right:1534.00px;text-align:right;">65</div>
<div class="t" style="top:1048.92px;font-size:34.6px;right:1408.00px;text-align:right;">17.4</div>
<div class="t" style="top:1048.92px;font-size:34.6px;right:1184.00px;text-align:right;">3.80<svg class="pm" width="23" height="25" viewBox="0 0 23 25"><path d="M0.9 12.5H22.1M11.5 1.3V22.9M0.9 22.9H22.1" stroke="#000" stroke-width="1.7" fill="none" stroke-linecap="round"/></svg>0.35</div>
<div class="t" style="top:1048.92px;font-size:34.6px;right:1059.20px;text-align:right;">75.1</div>
<div class="t" style="top:1048.92px;font-size:34.6px;right:884.20px;text-align:right;">226<span class="th"></span>000</div>
<div class="t" style="top:1048.92px;font-size:34.6px;right:744.20px;text-align:right;">1.7</div>
<div class="t" style="top:1048.92px;font-size:34.6px;right:592.00px;text-align:right;">0.016</div>
<div class="t" style="top:1048.92px;font-size:34.6px;right:440.00px;text-align:right;"><svg class="mn" width="22" height="12" viewBox="0 0 22 12"><path d="M0.2 3.0H21.4" stroke="#000" stroke-width="1.7" fill="none"/></svg>0.017</div>
<div class="t" style="top:1048.92px;font-size:34.6px;left:1673.50px;">0.803</div>
<div class="t" style="top:1048.92px;font-size:34.6px;left:1881.10px;">0.791</div>
<div class="t" style="top:1114.72px;font-size:34.6px;left:24.00px;">Ethylene</div>
<div class="t" style="top:1114.72px;font-size:34.6px;right:1534.00px;text-align:right;">71</div>
<div class="t" style="top:1114.72px;font-size:34.6px;right:1408.00px;text-align:right;">12.0</div>
<div class="t" style="top:1114.72px;font-size:34.6px;right:1184.00px;text-align:right;">3.17<svg class="pm" width="23" height="25" viewBox="0 0 23 25"><path d="M0.9 12.5H22.1M11.5 1.3V22.9M0.9 22.9H22.1" stroke="#000" stroke-width="1.7" fill="none" stroke-linecap="round"/></svg>0.25</div>
<div class="t" style="top:1114.72px;font-size:34.6px;right:1059.20px;text-align:right;">67.0</div>
<div class="t" style="top:1114.72px;font-size:34.6px;right:884.20px;text-align:right;">17<span class="th"></span>000</div>
<div class="t" style="top:1114.72px;font-size:34.6px;right:744.20px;text-align:right;">1.9</div>
<div class="t" style="top:1114.72px;font-size:34.6px;right:592.00px;text-align:right;">0.166</div>
<div class="t" style="top:1114.72px;font-size:34.6px;right:440.00px;text-align:right;">0.063</div>
<div class="t" style="top:1114.72px;font-size:34.6px;left:1673.50px;">0.010<svg class="ast" width="15.0" height="27" viewBox="0 0 15.0 27"><path d="M6.10 2.00V13.80M1.50 5.25L10.70 10.55M1.50 10.55L10.70 5.25" stroke="#000" stroke-width="1.35" fill="none"/><circle cx="6.10" cy="2.00" r="1.2"/><circle cx="6.10" cy="13.80" r="1.2"/><circle cx="1.50" cy="5.25" r="1.2"/><circle cx="10.70" cy="10.55" r="1.2"/><circle cx="1.50" cy="10.55" r="1.2"/><circle cx="10.70" cy="5.25" r="1.2"/></svg></div>
<div class="t" style="top:1114.72px;font-size:34.6px;left:1881.10px;">0.331</div>
<div class="t" style="top:1180.52px;font-size:34.6px;left:24.00px;">Butyl cellosolve</div>
<div class="t" style="top:1180.52px;font-size:34.6px;right:1534.00px;text-align:right;">137</div>
<div class="t" style="top:1180.52px;font-size:34.6px;right:1408.00px;text-align:right;">18.5</div>
<div class="t" style="top:1180.52px;font-size:34.6px;right:1184.00px;text-align:right;">2.30<svg class="pm" width="23" height="25" viewBox="0 0 23 25"><path d="M0.9 12.5H22.1M11.5 1.3V22.9M0.9 22.9H22.1" stroke="#000" stroke-width="1.7" fill="none" stroke-linecap="round"/></svg>0.20</div>
<div class="t" style="top:1180.52px;font-size:34.6px;right:1059.20px;text-align:right;">104.2</div>
<div class="t" style="top:1180.52px;font-size:34.6px;right:884.20px;text-align:right;">100</div>
<div class="t" style="top:1180.52px;font-size:34.6px;right:744.20px;text-align:right;">2.6</div>
<div class="t" style="top:1180.52px;font-size:34.6px;right:592.00px;text-align:right;">0.499</div>
<div class="t" style="top:1180.52px;font-size:34.6px;right:440.00px;text-align:right;">0.304</div>
<div class="t" style="top:1180.52px;font-size:34.6px;left:1673.50px;"><svg class="lt" width="21" height="17" viewBox="0 0 21 17"><path d="M19.9 3.3L1.0 9.9L19.9 16.5" stroke="#000" stroke-width="1.5" fill="none" stroke-linecap="round" stroke-linejoin="round"/></svg>0.001<svg class="ast" width="45.0" height="27" viewBox="0 0 45.0 27"><path d="M6.10 2.00V13.80M1.50 5.25L10.70 10.55M1.50 10.55L10.70 5.25M21.10 2.00V13.80M16.50 5.25L25.70 10.55M16.50 10.55L25.70 5.25M36.10 2.00V13.80M31.50 5.25L40.70 10.55M31.50 10.55L40.70 5.25" stroke="#000" stroke-width="1.35" fill="none"/><circle cx="6.10" cy="2.00" r="1.2"/><circle cx="6.10" cy="13.80" r="1.2"/><circle cx="1.50" cy="5.25" r="1.2"/><circle cx="10.70" cy="10.55" r="1.2"/><circle cx="1.50" cy="10.55" r="1.2"/><circle cx="10.70" cy="5.25" r="1.2"/><circle cx="21.10" cy="2.00" r="1.2"/><circle cx="21.10" cy="13.80" r="1.2"/><circle cx="16.50" cy="5.25" r="1.2"/><circle cx="25.70" cy="10.55" r="1.2"/><circle cx="16.50" cy="10.55" r="1.2"/><circle cx="25.70" cy="5.25" r="1.2"/><circle cx="36.10" cy="2.00" r="1.2"/><circle cx="36.10" cy="13.80" r="1.2"/><circle cx="31.50" cy="5.25" r="1.2"/><circle cx="40.70" cy="10.55" r="1.2"/><circle cx="31.50" cy="10.55" r="1.2"/><circle cx="40.70" cy="5.25" r="1.2"/></svg></div>
<div class="t" style="top:1180.52px;font-size:34.6px;left:1881.10px;"><svg class="lt" width="21" height="17" viewBox="0 0 21 17"><path d="M19.9 3.3L1.0 9.9L19.9 16.5" stroke="#000" stroke-width="1.5" fill="none" stroke-linecap="round" stroke-linejoin="round"/></svg>0.001<svg class="ast" width="45.0" height="27" viewBox="0 0 45.0 27"><path d="M6.10 2.00V13.80M1.50 5.25L10.70 10.55M1.50 10.55L10.70 5.25M21.10 2.00V13.80M16.50 5.25L25.70 10.55M16.50 10.55L25.70 5.25M36.10 2.00V13.80M31.50 5.25L40.70 10.55M31.50 10.55L40.70 5.25" stroke="#000" stroke-width="1.35" fill="none"/><circle cx="6.10" cy="2.00" r="1.2"/><circle cx="6.10" cy="13.80" r="1.2"/><circle cx="1.50" cy="5.25" r="1.2"/><circle cx="10.70" cy="10.55" r="1.2"/><circle cx="1.50" cy="10.55" r="1.2"/><circle cx="10.70" cy="5.25" r="1.2"/><circle cx="21.10" cy="2.00" r="1.2"/><circle cx="21.10" cy="13.80" r="1.2"/><circle cx="16.50" cy="5.25" r="1.2"/><circle cx="25.70" cy="10.55" r="1.2"/><circle cx="16.50" cy="10.55" r="1.2"/><circle cx="25.70" cy="5.25" r="1.2"/><circle cx="36.10" cy="2.00" r="1.2"/><circle cx="36.10" cy="13.80" r="1.2"/><circle cx="31.50" cy="5.25" r="1.2"/><circle cx="40.70" cy="10.55" r="1.2"/><circle cx="31.50" cy="10.55" r="1.2"/><circle cx="40.70" cy="5.25" r="1.2"/></svg></div>
<div class="t" style="top:1246.32px;font-size:34.6px;left:24.00px;">Carbon monoxide<sup>a</sup></div>
<div class="t" style="top:1246.32px;font-size:34.6px;right:1534.00px;text-align:right;">2779</div>
<div class="t" style="top:1246.32px;font-size:34.6px;left:911.50px;width:800px;text-align:center;">Detected</div>
<div class="t" style="top:1312.12px;font-size:34.6px;left:24.00px;">Nitrous oxide<sup>a</sup></div>
<div class="t" style="top:1312.12px;font-size:34.6px;right:1534.00px;text-align:right;">15</div>
<div class="t" style="top:1312.12px;font-size:34.6px;left:911.50px;width:800px;text-align:center;">Detected</div>
</body></html>
